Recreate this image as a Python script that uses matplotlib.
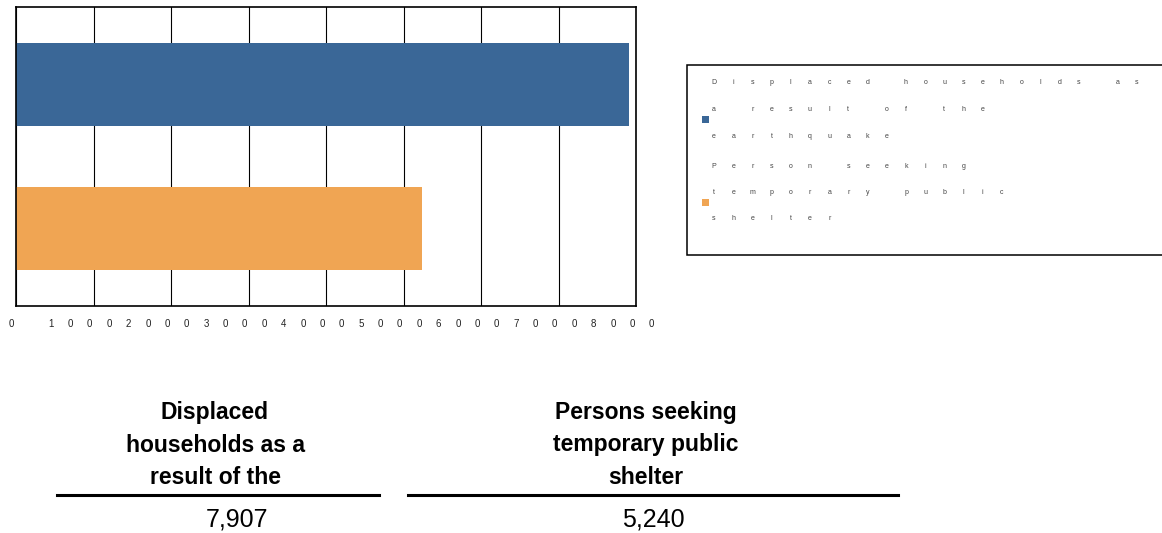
import matplotlib
matplotlib.use("Agg")
import matplotlib.pyplot as plt
from matplotlib import transforms
from matplotlib.patches import Rectangle
from matplotlib.lines import Line2D

W, H = 1162, 533

categories = ["Displaced households as a result of the earthquake",
              "Person seeking temporary public shelter"]
values = [7907, 5240]
colors = ["#3a6797", "#f0a553"]
legend_lines = [["Displaced households as", "a result of the", "earthquake"],
                ["Person seeking", "temporary public", "shelter"]]
xticks = [0, 1000, 2000, 3000, 4000, 5000, 6000, 7000, 8000]
xtick_labels = [str(t) for t in xticks]
table_headers = [["Displaced", "households as a", "result of the"],
                 ["Persons seeking", "temporary public", "shelter"]]
table_values = ["7,907", "5,240"]

plt.rcParams["font.family"] = ["Liberation Sans", "DejaVu Sans"]

fig = plt.figure(figsize=(W / 100, H / 100), dpi=100)


def fx(x):
    return x / W


def fy(y):
    return 1 - y / H


# bar chart
ax = fig.add_axes([fx(16), fy(306), 620 / W, 299 / H])
ypos = list(range(len(categories)))
ax.barh(ypos, values, height=0.576, color=colors, zorder=2)
ax.set_xlim(0, 8000)
ax.set_ylim(1.538, -0.538)
ax.set_xticks(xticks)
ax.set_yticks([])
ax.tick_params(axis="x", length=0, labelbottom=False)
ax.grid(axis="x", color="black", linewidth=0.8, zorder=1)
for sp in ax.spines.values():
    sp.set_linewidth(1.2)
    sp.set_color("black")

# letter-spaced tick labels
step = 19.29
for v, lab in zip(xticks, xtick_labels):
    n = len(lab)
    shift = 2.8 * n + 2.2
    for j, ch in enumerate(lab):
        dx = (j - (n - 1) / 2) * step - shift
        tr = transforms.offset_copy(ax.get_xaxis_transform(), fig=fig,
                                    x=dx, y=-18, units="dots")
        ax.text(v, 0, ch, transform=tr, ha="center", va="center",
                fontsize=7, color="#222222")


def spaced_text(x0, y0, s, step, **kw):
    for i, ch in enumerate(s):
        if ch != " ":
            fig.text(fx(x0 + i * step), fy(y0), ch, ha="center", va="center", **kw)


# legend box
fig.patches.append(Rectangle((fx(687), fy(255)), (1170 - 687) / W, 190 / H,
                             transform=fig.transFigure, facecolor="white",
                             edgecolor="black", linewidth=1.1))
for g, (lines, col) in enumerate(zip(legend_lines, colors)):
    y_first = 83 + g * 83
    for k, line in enumerate(lines):
        spaced_text(714, y_first + k * 26.5, line, 19.2,
                    fontsize=5, color="#444444")
    fig.patches.append(Rectangle((fx(702), fy(y_first + 40)), 7 / W, 7 / H,
                                 transform=fig.transFigure, facecolor=col,
                                 edgecolor="none"))

# summary table below
header_x = [215, 646]
value_x = [237, 653]
rules = [(57, 379), (408, 898)]
for hx, lines in zip(header_x, table_headers):
    for k, line in enumerate(lines):
        fig.text(fx(hx), fy(413 + 32 * k), line, ha="center", va="center",
                 fontsize=16.5, fontweight="bold", color="black")
for (x0, x1) in rules:
    fig.lines.append(Line2D([fx(x0), fx(x1)], [fy(495), fy(495)],
                            transform=fig.transFigure, color="black",
                            linewidth=2.2))
for vx, txt in zip(value_x, table_values):
    fig.text(fx(vx), fy(520), txt, ha="center", va="center",
             fontsize=18, color="black")

fig.savefig("out.png", dpi=100)
plt.close()
